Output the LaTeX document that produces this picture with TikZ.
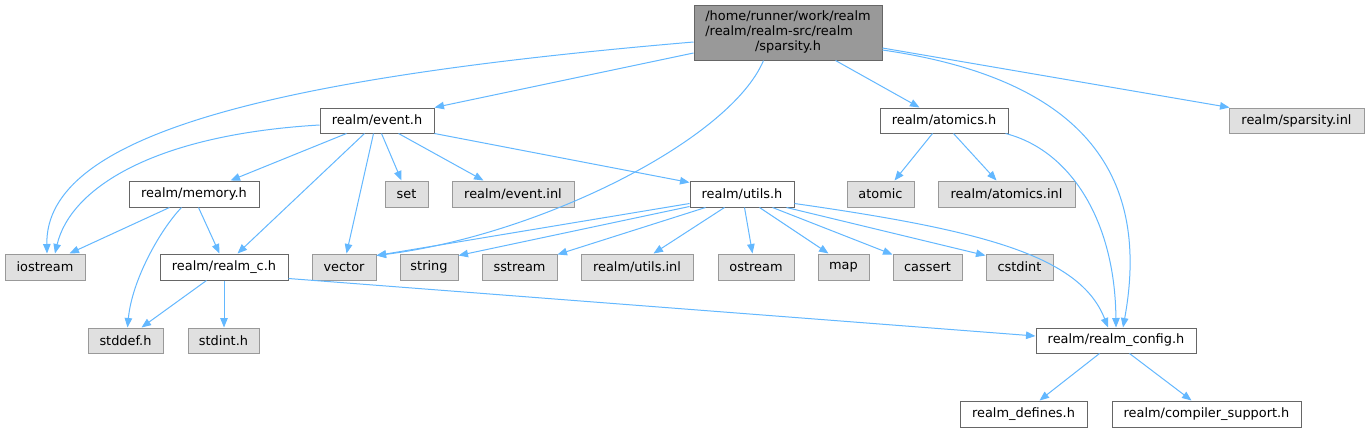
\documentclass[tikz,border=0pt]{standalone}
\usepackage{fontspec}
\setmainfont{DejaVu Sans}
\usetikzlibrary{arrows.meta}
\definecolor{edgeblue}{HTML}{63B8FF}
\definecolor{grayfill}{HTML}{E0E0E0}
\definecolor{grayline}{HTML}{999999}
\definecolor{darkline}{HTML}{666666}
\definecolor{rootfill}{HTML}{999999}
\begin{document}
\begin{tikzpicture}[x=1pt,y=-1pt,
  base/.style={inner sep=0pt,line width=1pt,font=\fontsize{12.9}{15}\selectfont,text=black},
  wbox/.style={base,draw=darkline,fill=white},
  gbox/.style={base,draw=grayline,fill=grayfill},
  rbox/.style={base,draw=darkline,fill=rootfill},
  edge/.style={draw=edgeblue,line width=1pt,-{Triangle[length=9.5pt,width=7.5pt]}}]
\useasboundingbox (0,0) rectangle (1370,432);
\fill[white] (0,0) rectangle (1370,432);
% nodes
\node[rbox,minimum width=188pt,minimum height=55pt] (root) at (788,32.5)
  {\begin{tabular}{@{}l@{}}/home/runner/work/realm\\/realm/realm-src/realm\\\multicolumn{1}{@{}c@{}}{/sparsity.h}\end{tabular}};
\node[wbox,minimum width=114pt,minimum height=25pt] (event) at (377,120.5) {realm/event.h};
\node[wbox,minimum width=128pt,minimum height=25pt] (atomics) at (944,120.5) {realm/atomics.h};
\node[gbox,minimum width=135pt,minimum height=25pt] (sparsinl) at (1296.5,120.5) {realm/sparsity.inl};
\node[wbox,minimum width=130pt,minimum height=26pt] (memory) at (194,194) {realm/memory.h};
\node[gbox,minimum width=43pt,minimum height=26pt] (set) at (406.5,194) {set};
\node[gbox,minimum width=122pt,minimum height=26pt] (eventinl) at (513,194) {realm/event.inl};
\node[wbox,minimum width=104pt,minimum height=26pt] (utils) at (742,194) {realm/utils.h};
\node[gbox,minimum width=67pt,minimum height=26pt] (atomic) at (880.5,194) {atomic};
\node[gbox,minimum width=137pt,minimum height=26pt] (atomicsinl) at (1006.5,194) {realm/atomics.inl};
\node[gbox,minimum width=80pt,minimum height=26pt] (iostream) at (45,267) {iostream};
\node[wbox,minimum width=128pt,minimum height=26pt] (realmc) at (224,267) {realm/realm\_c.h};
\node[gbox,minimum width=64pt,minimum height=26pt] (vector) at (344,267) {vector};
\node[gbox,minimum width=58pt,minimum height=26pt] (string) at (429,267) {string};
\node[gbox,minimum width=75pt,minimum height=26pt] (sstream) at (519.5,267) {sstream};
\node[gbox,minimum width=112pt,minimum height=26pt] (utilsinl) at (637,267) {realm/utils.inl};
\node[gbox,minimum width=76pt,minimum height=26pt] (ostream) at (756,267) {ostream};
\node[gbox,minimum width=51pt,minimum height=26pt] (map) at (843.5,267) {map};
\node[gbox,minimum width=69pt,minimum height=26pt] (cassert) at (927.5,267) {cassert};
\node[gbox,minimum width=67pt,minimum height=26pt] (cstdint) at (1019.5,267) {cstdint};
\node[gbox,minimum width=75pt,minimum height=25pt] (stddef) at (125.5,340.5) {stddef.h};
\node[gbox,minimum width=71pt,minimum height=25pt] (stdint) at (223.5,340.5) {stdint.h};
\node[wbox,minimum width=160pt,minimum height=25pt] (config) at (1116,340.5) {realm/realm\_config.h};
\node[wbox,minimum width=127pt,minimum height=26pt] (defines) at (1023.5,414) {realm\_defines.h};
\node[wbox,minimum width=189pt,minimum height=26pt] (compiler) at (1206.5,414) {realm/compiler\_support.h};
% root edges
\draw[edge] ([yshift=-9.5pt]root.west) .. controls (270,78) and (45,135) .. ([xshift=2pt]iostream.north);
\draw[edge] ([yshift=-20.5pt]root.west) -- (event.north east);
\draw[edge] ([xshift=70pt]root.south west) .. controls (730,140) and (540,235) .. ([yshift=-2pt]vector.north east);
\draw[edge] ([xshift=142pt]root.south west) -- ([xshift=40pt]atomics.north west);
\draw[edge] ([yshift=-17.5pt]root.east) .. controls (1090,80) and (1150,180) .. ([xshift=7pt]config.north);
\draw[edge] ([yshift=-15.5pt]root.east) -- ([xshift=1pt]sparsinl.north west);
% event edges
\draw[edge] ([yshift=-4.5pt]event.west) .. controls (150,135) and (70,190) .. ([xshift=10pt]iostream.north);
\draw[edge] ([xshift=27pt]event.south west) -- ([xshift=102pt]memory.north west);
\draw[edge] ([xshift=45pt]event.south west) -- ([xshift=78pt]realmc.north west);
\draw[edge] ([xshift=54pt]event.south west) -- ([xshift=35pt]vector.north west);
\draw[edge] ([xshift=62pt]event.south west) -- ([xshift=17pt]set.north west);
\draw[edge] ([xshift=79pt]event.south west) -- ([xshift=32pt]eventinl.north west);
\draw[edge] (event.south east) -- ([yshift=-2pt]utils.north west);
% memory edges
\draw[edge] ([xshift=41pt]memory.south west) -- ([xshift=65pt]iostream.north west);
\draw[edge] ([xshift=53pt]memory.south west) .. controls (160,230) and (132,280) .. ([xshift=40pt]stddef.north west);
\draw[edge] ([xshift=70pt]memory.south west) -- ([xshift=60pt]realmc.north west);
% realm_c edges
\draw[edge] ([xshift=47pt]realmc.south west) -- ([xshift=54pt]stddef.north west);
\draw[edge] (realmc.south) -- (realmc.south |- stdint.north);
\draw[edge] ([yshift=2pt]realmc.south east) -- ([yshift=4.5pt]config.west);
% utils edges
\draw[edge] ([yshift=4pt]utils.south west) -- ([yshift=-2pt]vector.north east);
\draw[edge] ([yshift=1pt]utils.south west) -- ([yshift=-2pt]string.north east);
\draw[edge] ([xshift=16pt]utils.south west) -- ([yshift=-1pt]sstream.north east);
\draw[edge] ([xshift=35pt]utils.south west) -- ([xshift=73pt]utilsinl.north west);
\draw[edge] ([xshift=55pt]utils.south west) -- ([xshift=35pt]ostream.north west);
\draw[edge] ([xshift=70pt]utils.south west) -- ([xshift=11pt]map.north west);
\draw[edge] ([xshift=83pt]utils.south west) -- ([yshift=-1pt]cassert.north west);
\draw[edge] ([xshift=97pt]utils.south west) -- ([yshift=-2pt]cstdint.north west);
\draw[edge] ([yshift=4pt]utils.south east) .. controls (980,230) and (1080,255) .. ([xshift=-8pt]config.north);
% atomics edges
\draw[edge] ([xshift=53pt]atomics.south west) -- ([xshift=48pt]atomic.north west);
\draw[edge] ([xshift=74pt]atomics.south west) -- ([xshift=59pt]atomicsinl.north west);
\draw[edge] ([xshift=-3pt]atomics.south east) .. controls (1070,150) and (1115,220) .. (config.north);
% config edges
\draw[edge] ([xshift=64pt]config.south west) -- ([xshift=80pt]defines.north west);
\draw[edge] ([xshift=94pt]config.south west) -- ([xshift=80pt]compiler.north west);
\end{tikzpicture}
\end{document}
